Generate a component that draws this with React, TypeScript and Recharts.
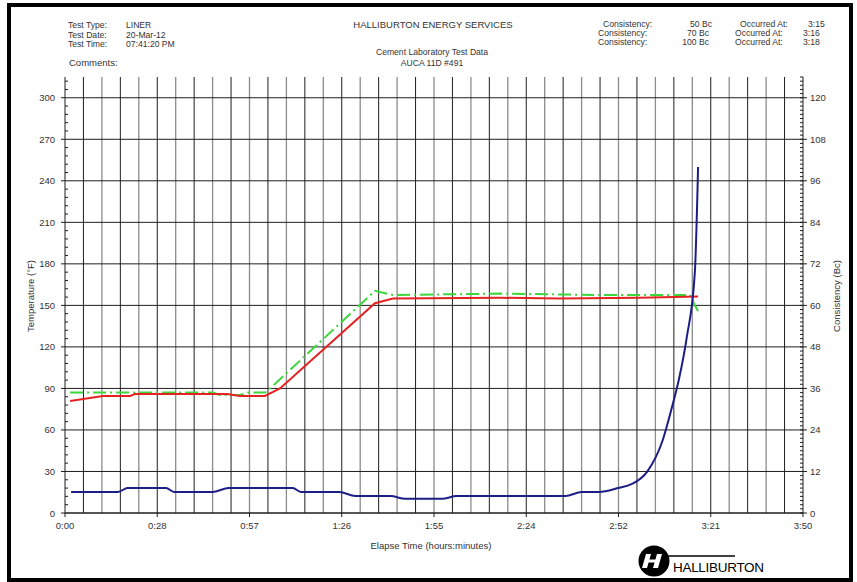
import { CartesianGrid, Line, LineChart, XAxis, YAxis } from 'recharts'

// elapsed minutes / temperature (°F)
const redTime = [1.6, 11.8, 20.3, 21.8, 50.5, 54.5, 62.3, 67, 96.6, 102.2, 135.6, 154.2, 179, 197.3]
const redTemp = [81, 84.5, 84.6, 86, 86, 84.5, 84.6, 90, 151.6, 155, 155.5, 155, 155.5, 156.5]

const greenTime = [1.6, 46, 48.3, 54.5, 57, 62.3, 63, 96.6, 102.2, 135.6, 166.7, 194.8, 196.3, 197.3]
const greenTemp = [87, 87, 85.3, 85.3, 87, 87, 88, 160.5, 157.5, 158.5, 157.5, 157.5, 150, 146]

// elapsed minutes / consistency (Bc)
const blueTime = [1.9, 16.5, 19.5, 31.5, 34, 46, 51, 71, 73.5, 85.5, 90.5, 101.5, 106, 117.5, 122, 156, 161, 166.5, 172.3, 176.7, 181.4, 186.3, 189.2, 191.3, 193.8, 196.3, 197.3]
const blueBc = [6.1, 6.1, 7.2, 7.2, 6.1, 6.1, 7.2, 7.2, 6.1, 6.1, 4.9, 4.9, 4.1, 4.1, 4.9, 4.9, 6.1, 6.1, 7.2, 8.4, 11.9, 21.1, 30.7, 38.5, 50.9, 69.7, 100]

const xTicks = [0, 28.75, 57.5, 86.25, 115, 143.75, 172.5, 201.25, 230]
const xLabels = ['0:00', '0:28', '0:57', '1:26', '1:55', '2:24', '2:52', '3:21', '3:50']
const tempMajor = [0, 30, 60, 90, 120, 150, 180, 210, 240, 270, 300]
const bcMajor = [0, 12, 24, 36, 48, 60, 72, 84, 96, 108, 120]

const timeGrid = Array.from({ length: 41 }, (_, i) => i * 5.75)
const gridDark = timeGrid.filter((_, i) => i % 2 === 1)
const gridLight = timeGrid.filter((_, i) => i % 2 === 0 && i > 0 && i < 40)
const tempTicks = Array.from({ length: 53 }, (_, i) => i * 6)
const bcTicks = Array.from({ length: 106 }, (_, i) => Math.round(i * 12) / 10)

const red = redTime.map((t, i) => ({ t, v: redTemp[i] }))
const green = greenTime.map((t, i) => ({ t, v: greenTemp[i] }))
const blue = blueTime.map((t, i) => ({ t, v: blueBc[i] }))

const FONT = '"Liberation Sans", Arial, sans-serif'
const INK = '#1e1e1e'
const TXT = '#333'

function LeftTick(p: any) {
  const { x, y, payload } = p
  const major = tempMajor.includes(payload.value)
  return (
    <g>
      {major ? (
        <line x1={x - 4} x2={x} y1={y} y2={y} stroke={INK} />
      ) : (
        <line x1={x} x2={x + 3} y1={y} y2={y} stroke={INK} />
      )}
      {major && (
        <text x={x - 10} y={y} dy={3.5} textAnchor="end" fontSize={9.5} fill={TXT} fontFamily={FONT}>
          {payload.value}
        </text>
      )}
    </g>
  )
}

function RightTick(p: any) {
  const { x, y, payload } = p
  const major = bcMajor.some((m) => Math.abs(m - payload.value) < 0.01)
  return (
    <g>
      {major ? (
        <line x1={x - 3} x2={x + 4} y1={y} y2={y} stroke={INK} />
      ) : (
        <line x1={x - 3} x2={x} y1={y} y2={y} stroke={INK} />
      )}
      {major && (
        <text x={x + 7} y={y} dy={3.5} textAnchor="start" fontSize={9.5} fill={TXT} fontFamily={FONT}>
          {Math.round(payload.value)}
        </text>
      )}
    </g>
  )
}

function Overlay() {
  const t = { fontSize: 9.5, fill: TXT, fontFamily: FONT }
  const h = { fontSize: 8.6, fill: TXT, fontFamily: FONT }
  return (
    <svg width={857} height={582} style={{ position: 'absolute', left: 0, top: 0, pointerEvents: 'none' }}>
      <rect x={9} y={5} width={842} height={575} fill="none" stroke="#000" strokeWidth={4} />

      {/* header left */}
      <text x={68} y={28} {...h}>Test Type:</text>
      <text x={68} y={37.5} {...h}>Test Date:</text>
      <text x={68} y={47} {...h}>Test Time:</text>
      <text x={126} y={28} {...h}>LINER</text>
      <text x={126} y={37.5} {...h}>20-Mar-12</text>
      <text x={126} y={47} {...h}>07:41:20 PM</text>
      <text x={69} y={65.5} {...t}>Comments:</text>

      {/* header centre */}
      <text x={433} y={28} textAnchor="middle" {...t}>HALLIBURTON ENERGY  SERVICES</text>
      <text x={432} y={55} textAnchor="middle" {...h}>Cement Laboratory Test Data</text>
      <text x={432} y={65.5} textAnchor="middle" {...h}>AUCA 11D #491</text>

      {/* header right */}
      <text x={603} y={27} {...h}>Consistency:</text>
      <text x={598} y={36} {...h}>Consistency:</text>
      <text x={598} y={45} {...h}>Consistency:</text>
      <text x={712} y={27} textAnchor="end" {...h}>50  Bc</text>
      <text x={709} y={36} textAnchor="end" {...h}>70  Bc</text>
      <text x={709} y={45} textAnchor="end" {...h}>100  Bc</text>
      <text x={740} y={27} {...h}>Occurred At:</text>
      <text x={735} y={36} {...h}>Occurred At:</text>
      <text x={735} y={45} {...h}>Occurred At:</text>
      <text x={808} y={27} {...h}>3:15</text>
      <text x={803} y={36} {...h}>3:16</text>
      <text x={803} y={45} {...h}>3:18</text>

      {/* axis titles */}
      <text transform="translate(33.5,296) rotate(-90)" textAnchor="middle" {...t}>Temperature (°F)</text>
      <text transform="translate(840,296) rotate(-90)" textAnchor="middle" {...t}>Consistency (Bc)</text>
      <text x={431} y={549} textAnchor="middle" {...t}>Elapse Time (hours:minutes)</text>

      {/* logo */}
      <circle cx={654} cy={561} r={15.5} fill="#000" />
      <path d="M646 554 L651 554 L647 568 L642 568 Z" fill="#fff" />
      <path d="M657 554 L662 554 L658 568 L653 568 Z" fill="#fff" />
      <rect x={646} y={559.5} width={12} height={3} fill="#fff" />
      <line x1={662} y1={556} x2={735} y2={556} stroke="#000" strokeWidth={1.5} />
      <text x={673} y={572} fontSize={13.5} fill="#000" fontFamily={FONT} letterSpacing={-0.3}>HALLIBURTON</text>
    </svg>
  )
}

export default function App() {
  return (
    <div style={{ position: 'absolute', left: 0, top: 0, width: 857, height: 582, background: '#fff' }}>
      <LineChart width={857} height={582} margin={{ top: 77, right: 14, bottom: 39, left: 25 }}>
        <CartesianGrid
          xAxisId="time"
          yAxisId="temp"
          stroke="#8c8c8c"
          strokeWidth={1.3}
          horizontal={false}
          verticalValues={gridLight}
        />
        <CartesianGrid
          xAxisId="time"
          yAxisId="temp"
          stroke={INK}
          horizontalValues={tempMajor}
          verticalValues={gridDark}
        />
        <XAxis
          xAxisId="time"
          type="number"
          dataKey="t"
          domain={[0, 230]}
          ticks={xTicks}
          interval={0}
          height={30}
          tickSize={4}
          tickMargin={5}
          tickFormatter={(_v: number, i: number) => xLabels[i]}
          axisLine={{ stroke: INK }}
          tickLine={{ stroke: INK }}
          tick={{ fill: TXT, fontSize: 9.5, fontFamily: FONT }}
        />
        <YAxis
          yAxisId="temp"
          width={40}
          domain={[0, 315]}
          ticks={tempTicks}
          interval={0}
          tickSize={0}
          tickMargin={0}
          tickLine={false}
          axisLine={{ stroke: INK }}
          tick={(p: any) => <LeftTick {...p} />}
        />
        <YAxis
          yAxisId="bc"
          orientation="right"
          width={40}
          domain={[0, 126]}
          ticks={bcTicks}
          interval={0}
          tickSize={0}
          tickMargin={0}
          tickLine={false}
          axisLine={{ stroke: INK }}
          tick={(p: any) => <RightTick {...p} />}
        />
        <Line
          data={green}
          xAxisId="time"
          yAxisId="temp"
          dataKey="v"
          stroke="#3ad83a"
          strokeWidth={2}
          strokeDasharray="13 4 2 4"
          dot={false}
          isAnimationActive={false}
        />
        <Line
          data={red}
          xAxisId="time"
          yAxisId="temp"
          dataKey="v"
          stroke="#e42222"
          strokeWidth={2}
          dot={false}
          isAnimationActive={false}
        />
        <Line
          data={blue}
          xAxisId="time"
          yAxisId="bc"
          dataKey="v"
          type="monotone"
          stroke="#1c1e86"
          strokeWidth={2}
          dot={false}
          isAnimationActive={false}
        />
      </LineChart>
      <Overlay />
    </div>
  )
}
